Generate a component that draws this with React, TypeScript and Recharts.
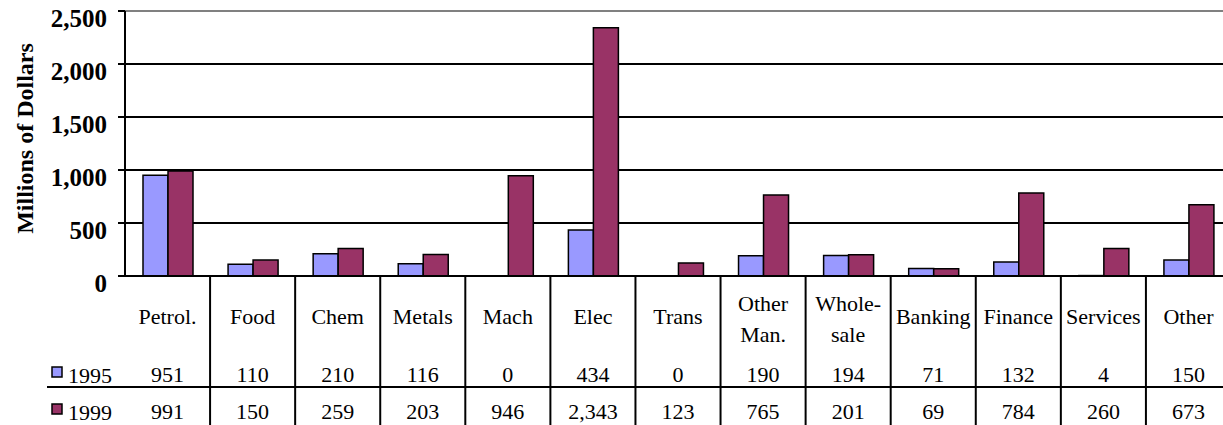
import React from 'react';
import { BarChart, Bar, XAxis, YAxis, CartesianGrid, ReferenceLine } from 'recharts';

const categories = ['Petrol.', 'Food', 'Chem', 'Metals', 'Mach', 'Elec', 'Trans', 'Other\nMan.', 'Whole-\nsale', 'Banking', 'Finance', 'Services', 'Other'];
const values1995 = [951, 110, 210, 116, 0, 434, 0, 190, 194, 71, 132, 4, 150];
const values1999 = [991, 150, 259, 203, 946, 2343, 123, 765, 201, 69, 784, 260, 673];
const seriesNames = ['1995', '1999'];
const yTicks = [0, 500, 1000, 1500, 2000, 2500];
const yLabel = 'Millions of Dollars';

const COLOR_1995 = '#9999FF';
const COLOR_1999 = '#993366';
const FONT = "'Liberation Serif', 'Times New Roman', serif";

const CHART_W = 1231;
const CHART_H = 425;
const PLOT_LEFT = 125;
const PLOT_RIGHT = 1231;
const BAND = (PLOT_RIGHT - PLOT_LEFT) / categories.length;

const data = categories.map((name, i) => ({ name, v1995: values1995[i], v1999: values1999[i] }));

const fmt = (v: number) => v.toLocaleString('en-US');

const XTick = (props: any) => {
  const { x, y, payload } = props;
  const i = payload.index;
  const lines = String(categories[i]).split('\n');
  const right = x + BAND / 2;
  const left = x - BAND / 2;
  return (
    <g fontFamily={FONT} fontSize={22} fill="#000">
      {lines.length === 1 ? (
        <text x={x} y={y + 48} textAnchor="middle" fill="#000">{lines[0]}</text>
      ) : (
        lines.map((l, k) => (
          <text key={k} x={x} y={y + 35 + k * 31} textAnchor="middle" fill="#000">{l}</text>
        ))
      )}
      <text x={x} y={y + 106} textAnchor="middle" fill="#000">{fmt(values1995[i])}</text>
      <text x={x} y={y + 143} textAnchor="middle" fill="#000">{fmt(values1999[i])}</text>
      <line x1={right} y1={y} x2={right} y2={CHART_H} stroke="#000" strokeWidth={2} />
      {i === 0 && (
        <g>
          <line x1={left - 78} y1={y + 111} x2={PLOT_RIGHT} y2={y + 111} stroke="#000" strokeWidth={2} />
          <rect x={left - 73} y={y + 91} width={10} height={10} fill={COLOR_1995} stroke="#000" strokeWidth={1.5} />
          <text x={left - 57} y={y + 107} textAnchor="start" fill="#000">{seriesNames[0]}</text>
          <rect x={left - 73} y={y + 128} width={10} height={10} fill={COLOR_1999} stroke="#000" strokeWidth={1.5} />
          <text x={left - 57} y={y + 144} textAnchor="start" fill="#000">{seriesNames[1]}</text>
        </g>
      )}
    </g>
  );
};

const YTick = (props: any) => {
  const { x, y, payload } = props;
  return (
    <text x={x} y={y + 16} textAnchor="end" fontFamily={FONT} fontSize={25} fontWeight="bold" fill="#000">
      {fmt(payload.value)}
    </text>
  );
};

const YLabel = (props: any) => {
  const vb = props.viewBox || { x: 0, y: 11, height: 265 };
  const cx = vb.x + 25;
  const cy = vb.y + vb.height / 2 - 5;
  return (
    <text x={cx} y={cy} transform={`rotate(-90 ${cx} ${cy})`} textAnchor="middle" dominantBaseline="central" fontFamily={FONT} fontSize={24} fontWeight="bold" fill="#000">
      {yLabel}
    </text>
  );
};

export default function App() {
  return (
    <div style={{ position: 'absolute', left: 0, top: 0, width: 1223, height: 425, overflow: 'hidden', background: '#fff' }}>
      <BarChart width={CHART_W} height={CHART_H} data={data} margin={{ top: 11, right: 0, bottom: 0, left: 0 }} barGap={0} barSize={25}>
        <CartesianGrid vertical={false} stroke="#000" strokeWidth={2} />
        <ReferenceLine y={2500} stroke="#808080" strokeWidth={2} />
        <XAxis dataKey="name" interval={0} height={149} tickLine={false} tickSize={0} tickMargin={0} axisLine={{ stroke: '#000', strokeWidth: 2 }} tick={<XTick />} />
        <YAxis width={125} domain={[0, 2500]} ticks={yTicks} interval={0} tickSize={7} tickMargin={11} tickLine={{ stroke: '#000', strokeWidth: 2 }} axisLine={{ stroke: '#000', strokeWidth: 2 }} tick={<YTick />} label={<YLabel />} />
        <Bar dataKey="v1995" name={seriesNames[0]} fill={COLOR_1995} stroke="#000" strokeWidth={1.5} isAnimationActive={false} />
        <Bar dataKey="v1999" name={seriesNames[1]} fill={COLOR_1999} stroke="#000" strokeWidth={1.5} isAnimationActive={false} />
      </BarChart>
    </div>
  );
}
